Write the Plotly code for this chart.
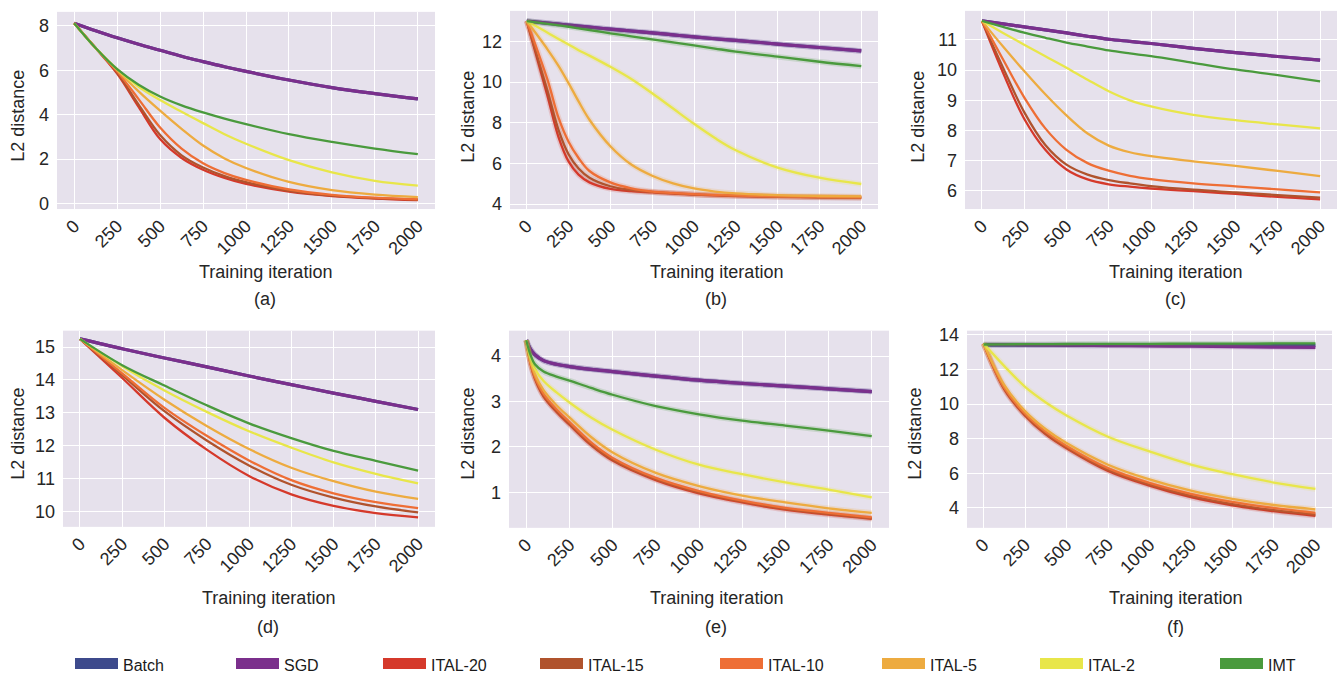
import plotly.graph_objects as go

W, H = 1343, 682

SERIES = ["Batch", "SGD", "ITAL-20", "ITAL-15", "ITAL-10", "ITAL-5", "ITAL-2", "IMT"]
COLORS = ["#3d4a8c", "#7b2f8c", "#d5392b", "#b0532d", "#ee6e35", "#edab40", "#e8e64a", "#4a9a3d"]
X_TICKS = [0, 250, 500, 750, 1000, 1250, 1500, 1750, 2000]

# ---- panel (a)
X_A = [0, 125, 250, 375, 500, 625, 750, 875, 1000, 1250, 1500, 1750, 2000]
BATCH_A = [8.12, 7.78, 7.46, 7.17, 6.90, 6.63, 6.39, 6.16, 5.95, 5.56, 5.22, 4.95, 4.71]
SGD_A = [8.12, 7.78, 7.46, 7.17, 6.90, 6.63, 6.39, 6.16, 5.95, 5.56, 5.22, 4.95, 4.71]
ITAL20_A = [8.12, 7.0, 5.85, 4.35, 2.9, 2.05, 1.52, 1.15, 0.88, 0.53, 0.33, 0.22, 0.15]
ITAL15_A = [8.12, 7.0, 5.9, 4.45, 3.08, 2.17, 1.62, 1.23, 0.96, 0.57, 0.35, 0.24, 0.17]
ITAL10_A = [8.12, 7.0, 5.95, 4.7, 3.42, 2.47, 1.81, 1.37, 1.06, 0.63, 0.39, 0.26, 0.19]
ITAL5_A = [8.12, 7.0, 6.0, 5.05, 4.18, 3.36, 2.61, 2.03, 1.6, 0.97, 0.6, 0.4, 0.29]
ITAL2_A = [8.12, 7.0, 6.05, 5.26, 4.66, 4.13, 3.62, 3.12, 2.69, 1.95, 1.4, 1.02, 0.8]
IMT_A = [8.12, 7.0, 6.05, 5.35, 4.82, 4.42, 4.1, 3.82, 3.57, 3.12, 2.77, 2.47, 2.22]

# ---- panel (b)
X_B = [0, 125, 190, 250, 310, 375, 500, 625, 750, 875, 1000, 1125, 1250, 1500, 1750, 2000]
BATCH_B = [13.0, 12.9, 12.85, 12.8, 12.75, 12.7, 12.6, 12.51, 12.42, 12.32, 12.22, 12.13, 12.05, 11.87, 11.7, 11.53]
SGD_B = [13.0, 12.9, 12.85, 12.8, 12.75, 12.7, 12.6, 12.51, 12.42, 12.32, 12.22, 12.13, 12.05, 11.87, 11.7, 11.53]
ITAL20_B = [13.0, 9.3, 7.3, 6.1, 5.45, 5.07, 4.75, 4.64, 4.58, 4.52, 4.47, 4.43, 4.4, 4.36, 4.33, 4.31]
ITAL15_B = [13.0, 9.55, 7.65, 6.45, 5.75, 5.3, 4.88, 4.7, 4.6, 4.54, 4.48, 4.44, 4.41, 4.37, 4.34, 4.32]
ITAL10_B = [13.0, 10.1, 8.25, 7.07, 6.27, 5.63, 5.07, 4.78, 4.62, 4.55, 4.49, 4.45, 4.42, 4.38, 4.36, 4.34]
ITAL5_B = [13.0, 11.6, 10.8, 9.95, 9.05, 8.15, 6.85, 5.95, 5.4, 5.02, 4.77, 4.62, 4.53, 4.44, 4.4, 4.38]
ITAL2_B = [13.0, 12.43, 12.12, 11.85, 11.57, 11.3, 10.75, 10.15, 9.45, 8.7, 7.95, 7.25, 6.65, 5.8, 5.3, 4.99]
IMT_B = [13.0, 12.86, 12.79, 12.72, 12.64, 12.56, 12.4, 12.25, 12.1, 11.95, 11.8, 11.65, 11.5, 11.25, 11.0, 10.78]

# ---- panel (c)
X_C = [0, 125, 250, 375, 500, 625, 750, 875, 1000, 1250, 1500, 1750, 2000]
BATCH_C = [11.63, 11.53, 11.43, 11.33, 11.23, 11.12, 11.02, 10.95, 10.88, 10.72, 10.58, 10.45, 10.33]
SGD_C = [11.63, 11.53, 11.43, 11.33, 11.23, 11.12, 11.02, 10.95, 10.88, 10.72, 10.58, 10.45, 10.33]
ITAL20_C = [11.63, 9.91, 8.39, 7.36, 6.71, 6.38, 6.22, 6.14, 6.08, 5.99, 5.9, 5.8, 5.72]
ITAL15_C = [11.63, 10.08, 8.61, 7.52, 6.87, 6.54, 6.36, 6.25, 6.16, 6.04, 5.95, 5.86, 5.78]
ITAL10_C = [11.63, 10.35, 9.1, 8.07, 7.36, 6.92, 6.67, 6.5, 6.39, 6.25, 6.15, 6.05, 5.95]
ITAL5_C = [11.63, 10.78, 9.97, 9.2, 8.5, 7.9, 7.5, 7.28, 7.15, 6.98, 6.83, 6.66, 6.49]
ITAL2_C = [11.63, 11.23, 10.84, 10.46, 10.08, 9.68, 9.3, 9.0, 8.8, 8.52, 8.34, 8.2, 8.07]
IMT_C = [11.63, 11.43, 11.24, 11.07, 10.91, 10.78, 10.65, 10.55, 10.46, 10.24, 10.02, 9.83, 9.63]

# ---- panel (d)
X_D = [0, 250, 500, 750, 1000, 1250, 1500, 1750, 2000]
BATCH_D = [15.25, 14.95, 14.67, 14.4, 14.12, 13.86, 13.6, 13.35, 13.1]
SGD_D = [15.25, 14.95, 14.67, 14.4, 14.12, 13.86, 13.6, 13.35, 13.1]
ITAL20_D = [15.25, 14.06, 12.85, 11.88, 11.08, 10.52, 10.17, 9.95, 9.82]
ITAL15_D = [15.25, 14.15, 13.05, 12.16, 11.4, 10.81, 10.42, 10.15, 9.97]
ITAL10_D = [15.25, 14.2, 13.15, 12.3, 11.55, 10.95, 10.55, 10.28, 10.1]
ITAL5_D = [15.25, 14.3, 13.4, 12.6, 11.9, 11.33, 10.92, 10.6, 10.38]
ITAL2_D = [15.25, 14.42, 13.68, 13.03, 12.44, 11.94, 11.49, 11.14, 10.85]
IMT_D = [15.25, 14.45, 13.83, 13.23, 12.68, 12.23, 11.84, 11.54, 11.24]

# ---- panel (e)
X_E = [0, 25, 50, 100, 175, 250, 375, 500, 750, 1000, 1250, 1500, 1750, 2000]
BATCH_E = [4.35, 4.15, 4.03, 3.9, 3.82, 3.77, 3.71, 3.66, 3.56, 3.47, 3.4, 3.34, 3.28, 3.22]
SGD_E = [4.35, 4.15, 4.03, 3.9, 3.82, 3.77, 3.71, 3.66, 3.56, 3.47, 3.4, 3.34, 3.28, 3.22]
ITAL20_E = [4.35, 3.82, 3.5, 3.11, 2.77, 2.49, 2.04, 1.7, 1.27, 0.98, 0.78, 0.62, 0.51, 0.42]
ITAL15_E = [4.35, 3.83, 3.52, 3.13, 2.79, 2.51, 2.06, 1.72, 1.29, 1.0, 0.8, 0.64, 0.53, 0.43]
ITAL10_E = [4.35, 3.85, 3.55, 3.17, 2.83, 2.55, 2.1, 1.76, 1.32, 1.03, 0.82, 0.66, 0.55, 0.45]
ITAL5_E = [4.35, 3.9, 3.6, 3.25, 2.92, 2.65, 2.22, 1.88, 1.43, 1.14, 0.93, 0.78, 0.65, 0.55]
ITAL2_E = [4.35, 3.95, 3.72, 3.45, 3.2, 2.98, 2.65, 2.38, 1.94, 1.61, 1.4, 1.22, 1.06, 0.89]
IMT_E = [4.35, 4.02, 3.82, 3.66, 3.55, 3.46, 3.3, 3.15, 2.9, 2.72, 2.58, 2.47, 2.36, 2.24]

# ---- panel (f)
X_F = [0, 125, 250, 375, 500, 750, 1000, 1250, 1500, 1750, 2000]
BATCH_F = [13.42, 13.41, 13.41, 13.41, 13.4, 13.4, 13.4, 13.4, 13.4, 13.4, 13.4]
SGD_F = [13.45, 13.44, 13.43, 13.42, 13.41, 13.39, 13.37, 13.35, 13.33, 13.3, 13.28]
ITAL20_F = [13.5, 10.85, 9.33, 8.25, 7.45, 6.14, 5.29, 4.62, 4.15, 3.81, 3.55]
ITAL15_F = [13.5, 10.9, 9.38, 8.3, 7.5, 6.2, 5.35, 4.7, 4.22, 3.87, 3.62]
ITAL10_F = [13.5, 10.95, 9.45, 8.4, 7.58, 6.3, 5.45, 4.82, 4.35, 4.0, 3.72]
ITAL5_F = [13.5, 11.1, 9.6, 8.55, 7.75, 6.5, 5.65, 5.0, 4.53, 4.17, 3.92]
ITAL2_F = [13.5, 12.2, 11.0, 10.1, 9.35, 8.12, 7.27, 6.51, 5.95, 5.47, 5.1]
IMT_F = [13.45, 13.46, 13.47, 13.47, 13.48, 13.49, 13.49, 13.5, 13.5, 13.51, 13.52]

PANELS = [
    dict(label="(a)", x=X_A, ys=[BATCH_A, SGD_A, ITAL20_A, ITAL15_A, ITAL10_A, ITAL5_A, ITAL2_A, IMT_A],
         box=(57, 7, 435, 208), yr=(-0.25, 8.63), dtick=2, halo=False,
         xt=(265, 272), cap=(265, 300), yt=(18, 113)),
    dict(label="(b)", x=X_B, ys=[BATCH_B, SGD_B, ITAL20_B, ITAL15_B, ITAL10_B, ITAL5_B, ITAL2_B, IMT_B],
         box=(510, 6, 878, 208), yr=(3.76, 13.5), dtick=2, halo=True,
         xt=(716, 272), cap=(716, 300), yt=(468, 114)),
    dict(label="(c)", x=X_C, ys=[BATCH_C, SGD_C, ITAL20_C, ITAL15_C, ITAL10_C, ITAL5_C, ITAL2_C, IMT_C],
         box=(965, 6, 1337, 208), yr=(5.4, 11.96), dtick=1, halo=False,
         xt=(1175, 272), cap=(1175, 300), yt=(918, 114)),
    dict(label="(d)", x=X_D, ys=[BATCH_D, SGD_D, ITAL20_D, ITAL15_D, ITAL10_D, ITAL5_D, ITAL2_D, IMT_D],
         box=(63, 332, 435, 532), yr=(9.53, 15.5), dtick=1, halo=False,
         xt=(268, 605), cap=(268, 634), yt=(18, 437)),
    dict(label="(e)", x=X_E, ys=[BATCH_E, SGD_E, ITAL20_E, ITAL15_E, ITAL10_E, ITAL5_E, ITAL2_E, IMT_E],
         box=(509, 332, 889, 533), yr=(0.22, 4.56), dtick=1, halo=True,
         xt=(716, 605), cap=(716, 634), yt=(468, 437)),
    dict(label="(f)", x=X_F, ys=[BATCH_F, SGD_F, ITAL20_F, ITAL15_F, ITAL10_F, ITAL5_F, ITAL2_F, IMT_F],
         box=(967, 332, 1332, 533), yr=(2.85, 14.25), dtick=2, halo=True,
         xt=(1175, 605), cap=(1175, 634), yt=(915, 437)),
]

FONT = "Liberation Sans, Arial, Helvetica, sans-serif"
TXT = "#262626"
BG = "#e6e1ec"


def rgba(hexc, a):
    h = hexc.lstrip("#")
    return "rgba(%d,%d,%d,%.2f)" % (int(h[0:2], 16), int(h[2:4], 16), int(h[4:6], 16), a)


fig = go.Figure()
layout = dict(
    width=W, height=H, margin=dict(l=0, r=0, t=0, b=0),
    paper_bgcolor="white", plot_bgcolor=BG,
    font=dict(family=FONT, size=18, color=TXT),
    showlegend=True,
    annotations=[],
)

for i, p in enumerate(PANELS):
    k = "" if i == 0 else str(i + 1)
    xa, ya = "x" + k, "y" + k
    x0, y0, x1, y1 = p["box"]
    layout["xaxis" + k] = dict(
        domain=[x0 / W, x1 / W], anchor=ya, range=[-100, 2100],
        tickvals=X_TICKS, ticktext=[str(v) for v in X_TICKS], tickangle=-45,
        showgrid=True, gridcolor="white", gridwidth=1.3, zeroline=False, showline=False,
        ticks="", tickfont=dict(size=18, color=TXT), ticklabelstandoff=2,
    )
    layout["yaxis" + k] = dict(
        domain=[1 - y1 / H, 1 - y0 / H], anchor=xa, range=list(p["yr"]), dtick=p["dtick"],
        tick0=0, showgrid=True, gridcolor="white", gridwidth=1.3, zeroline=False,
        showline=False, ticks="", tickfont=dict(size=18, color=TXT), ticklabelstandoff=7,
    )
    for j, (name, col, yv) in enumerate(zip(SERIES, COLORS, p["ys"])):
        w = 3.2 if name in ("Batch", "SGD") else 2.3
        if p["halo"]:
            fig.add_trace(go.Scatter(x=p["x"], y=yv, mode="lines", xaxis=xa, yaxis=ya,
                                     line=dict(color=rgba(col, 0.18), width=5.5, shape="spline", smoothing=1.0),
                                     showlegend=False, hoverinfo="skip"))
        fig.add_trace(go.Scatter(x=p["x"], y=yv, mode="lines", xaxis=xa, yaxis=ya, name=name,
                                 line=dict(color=col, width=w, shape="spline", smoothing=1.0),
                                 showlegend=False))
    layout["annotations"] += [
        dict(text="Training iteration", x=p["xt"][0] / W, y=1 - p["xt"][1] / H, xref="paper", yref="paper",
             showarrow=False, xanchor="center", yanchor="middle", font=dict(size=18, color=TXT)),
        dict(text=p["label"], x=p["cap"][0] / W, y=1 - p["cap"][1] / H, xref="paper", yref="paper",
             showarrow=False, xanchor="center", yanchor="middle", font=dict(size=18, color=TXT)),
        dict(text="L2 distance", x=p["yt"][0] / W, y=1 - p["yt"][1] / H, xref="paper", yref="paper",
             showarrow=False, xanchor="center", yanchor="middle", textangle=-90,
             font=dict(size=18, color=TXT)),
    ]

# legend entries (filled swatches only, no data)
LEG_W = [103, 89, 99, 122, 104, 100, 122, 50]
for name, col, lw in zip(SERIES, COLORS, LEG_W):
    fig.add_trace(go.Scatter(x=[None], y=[None], mode="lines", name=name, fill="toself",
                             fillcolor=col, line=dict(color=col, width=16),
                             legendwidth=lw, showlegend=True))

layout["legend"] = dict(
    orientation="h", x=70 / W, xanchor="left", y=1 - 673 / H, yanchor="middle",
    font=dict(family=FONT, size=16, color="#1a1a1a"),
    itemwidth=43, bgcolor="rgba(0,0,0,0)", borderwidth=0, tracegroupgap=0,
)

fig.update_layout(**layout)
fig.write_html("out.html")
